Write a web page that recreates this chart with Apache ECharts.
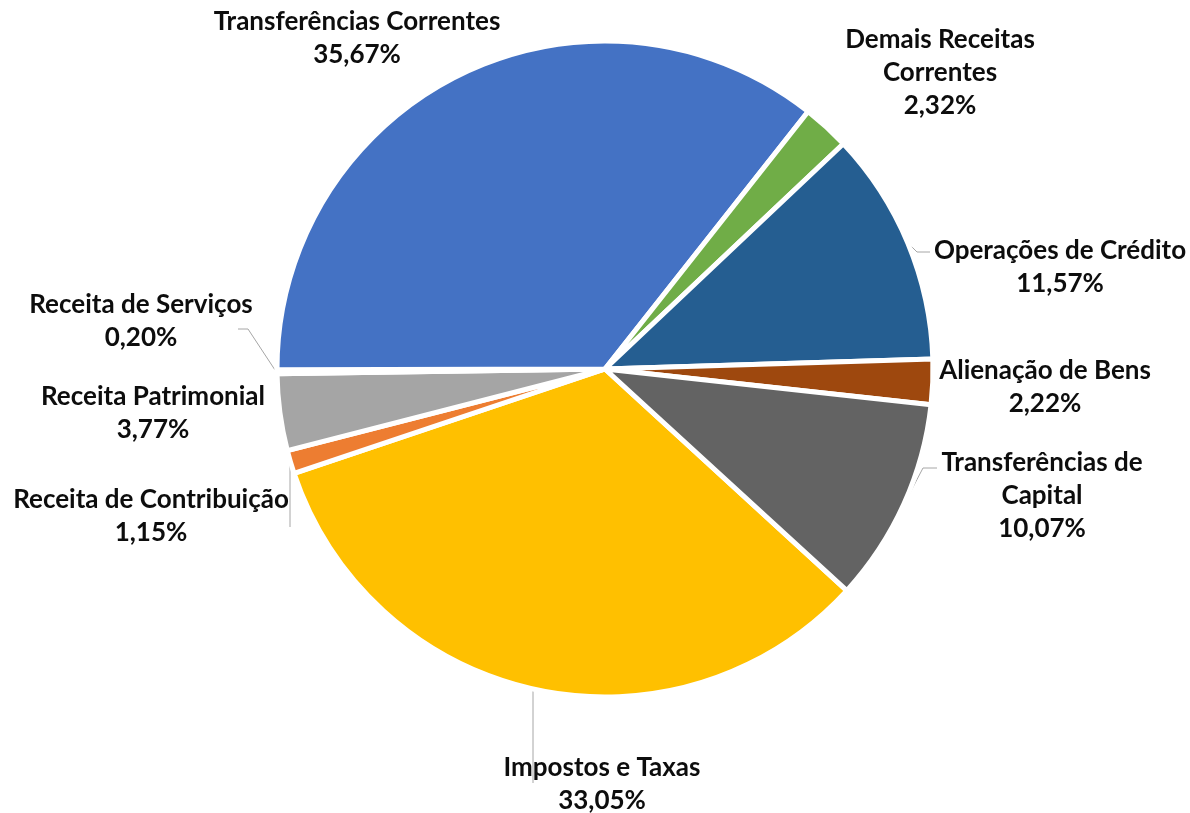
<!DOCTYPE html>
<html>
<head>
<meta charset="utf-8">
<script src="https://cdn.jsdelivr.net/npm/echarts@6/dist/echarts.min.js"></script>
<style>
html,body{margin:0;padding:0;background:#fff;}
#chart{width:1190px;height:813px;}
</style>
</head>
<body>
<div id="chart"></div>
<script>
// Data (clockwise order, starting with Impostos e Taxas)
const categories = [
  'Impostos e Taxas',
  'Receita de Contribuição',
  'Receita Patrimonial',
  'Receita de Serviços',
  'Transferências Correntes',
  'Demais Receitas Correntes',
  'Operações de Crédito',
  'Alienação de Bens',
  'Transferências de Capital'
];
const shares = [33.05, 1.15, 3.77, 0.20, 35.67, 2.32, 11.57, 2.22, 10.07];

// Styling (not data)
const sliceColors = ['#FFC000', '#ED7D31', '#A5A5A5', '#5B9BD5', '#4472C4', '#70AD47', '#255E91', '#9E480E', '#636363'];
const labelText = {
  'Demais Receitas Correntes': 'Demais Receitas\nCorrentes',
  'Transferências de Capital': 'Transferências de\nCapital'
};
const labelAnchors = {
  'Impostos e Taxas': [602, 784],
  'Receita de Contribuição': [151, 516],
  'Receita Patrimonial': [153, 413],
  'Receita de Serviços': [141, 321],
  'Transferências Correntes': [357, 38],
  'Demais Receitas Correntes': [940, 73],
  'Operações de Crédito': [1060, 267],
  'Alienação de Bens': [1045, 387],
  'Transferências de Capital': [1042, 496]
};
const guideLines = {
  'Impostos e Taxas': [[533, 690], [533, 737], [533, 783]],
  'Receita de Contribuição': [[290, 460], [290, 494], [290, 527]],
  'Receita de Serviços': [[275, 370], [248, 329], [238, 329]],
  'Operações de Crédito': [[910, 245], [917, 252], [930, 252]],
  'Transferências de Capital': [[902, 508], [923, 468], [937, 468]]
};
const noLine = ['Transferências Correntes', 'Demais Receitas Correntes', 'Alienação de Bens', 'Receita Patrimonial'];

const chart = echarts.init(document.getElementById('chart'));
chart.setOption({
  backgroundColor: '#ffffff',
  animation: false,
  series: [{
    type: 'pie',
    center: [605, 369],
    radius: [0, 328],
    startAngle: 317.5,
    clockwise: true,
    avoidLabelOverlap: false,
    itemStyle: { borderColor: '#ffffff', borderWidth: 5 },
    label: {
      show: true,
      position: 'outside',
      fontFamily: 'Lato',
      fontWeight: 'bold',
      fontSize: 26,
      lineHeight: 33,
      color: '#0d0d0d',
      formatter: function (p) {
        const name = labelText[p.name] || p.name;
        return name + '\n' + p.value.toFixed(2).replace('.', ',') + '%';
      }
    },
    labelLine: {
      show: true,
      length: 15,
      length2: 10,
      lineStyle: { color: '#A6A6A6', width: 1 }
    },
    labelLayout: function (params) {
      const name = categories[params.dataIndex];
      const a = labelAnchors[name];
      const res = { x: a[0], y: a[1], align: 'center', verticalAlign: 'middle', hideOverlap: false };
      if (guideLines[name]) res.labelLinePoints = guideLines[name];
      return res;
    },
    data: categories.map(function (c, i) {
      const item = { name: c, value: shares[i], itemStyle: { color: sliceColors[i] } };
      if (noLine.indexOf(c) >= 0) item.labelLine = { show: false };
      return item;
    })
  }]
});
</script>
</body>
</html>
